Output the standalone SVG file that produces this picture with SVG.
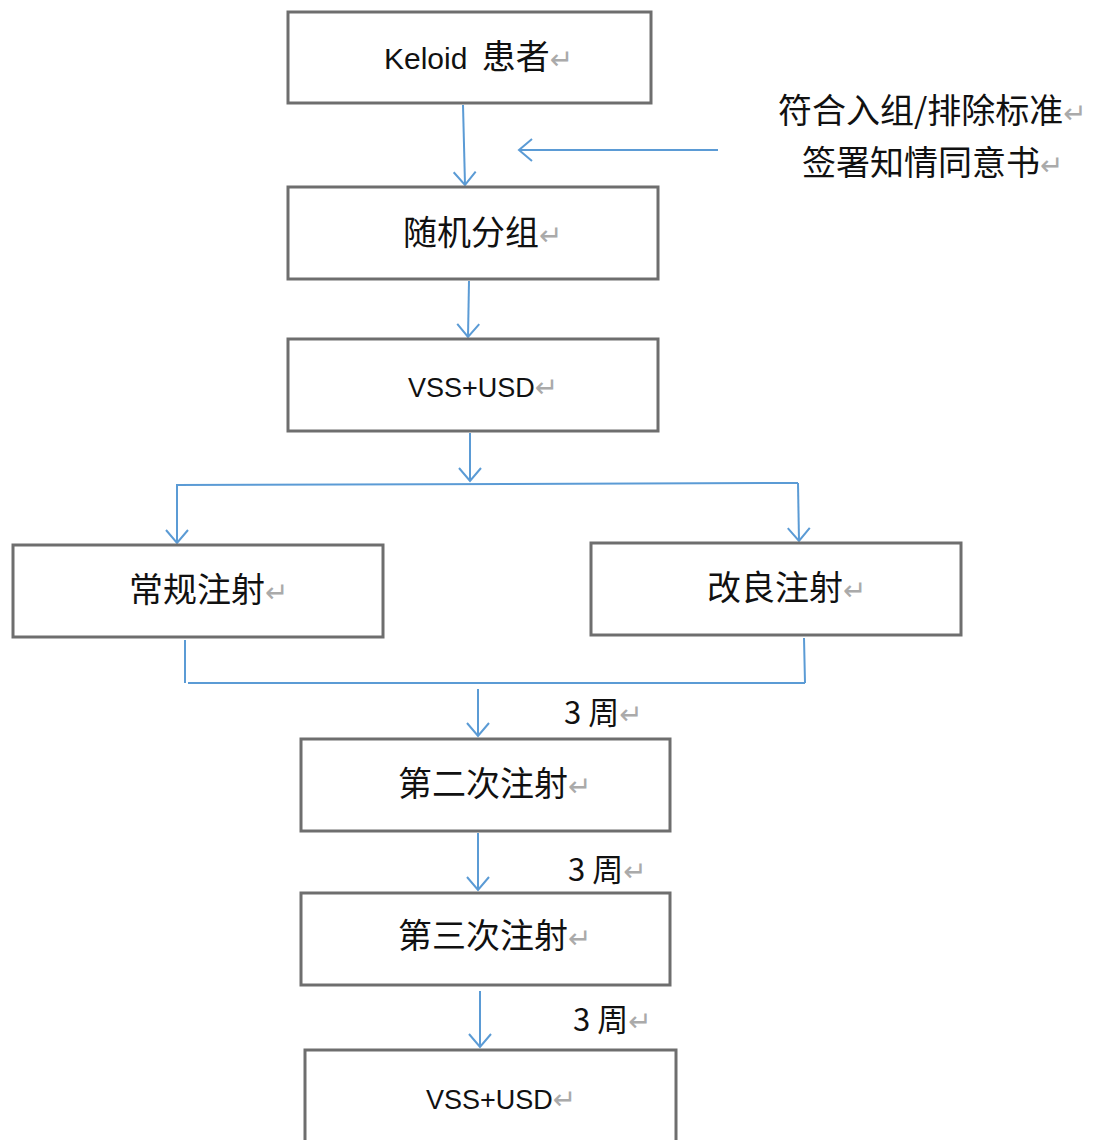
<svg xmlns="http://www.w3.org/2000/svg" width="1096" height="1140" viewBox="0 0 1096 1140">
<style>
.box{fill:#fff;stroke:#6e6e6e;stroke-width:3}
.t{font-family:"Noto Sans CJK SC","Liberation Sans",sans-serif;font-size:34px;fill:#111}
.e{font-family:"Liberation Sans","Noto Sans CJK SC",sans-serif;font-size:27px;fill:#111}
.r{fill:#aaa;font-family:"DejaVu Sans",sans-serif;font-size:28px}
.c{fill:none;stroke:#5b9bd5;stroke-width:2}
</style>
<defs>
<marker id="a" markerUnits="userSpaceOnUse" markerWidth="30" markerHeight="30" refX="14" refY="12" orient="auto" viewBox="0 0 30 24">
<path d="M1,1 L14,12 L1,23" fill="none" stroke="#5b9bd5" stroke-width="2"/>
</marker>
</defs>
<g id="connectors">
<path class="c" d="M463,105 L465,185" marker-end="url(#a)"/>
<path class="c" d="M718,150 L519,150" marker-end="url(#a)"/>
<path class="c" d="M469,281 L468,337" marker-end="url(#a)"/>
<path class="c" d="M470,433 L470,481" marker-end="url(#a)"/>
<path class="c" d="M176,485 L798,483"/>
<path class="c" d="M177,485 L177,543" marker-end="url(#a)"/>
<path class="c" d="M798,483 L799,541" marker-end="url(#a)"/>
<path class="c" d="M185,640 L185,683 M188,683 L805,683 M804,638 L805,683"/>
<path class="c" d="M478,689 L478,736" marker-end="url(#a)"/>
<path class="c" d="M478,833 L478,890" marker-end="url(#a)"/>
<path class="c" d="M480,991 L480,1047" marker-end="url(#a)"/>
</g>
<g id="n1"><rect class="box" x="288" y="12" width="363" height="91"/><text class="e" x="384" y="69" style="font-size:30px">Keloid <tspan class="t" dx="6">患者</tspan><tspan class="r">↵</tspan></text></g>
<g id="n2"><rect class="box" x="288" y="187" width="370" height="92"/><text class="t" x="403" y="245">随机分组<tspan class="r">↵</tspan></text></g>
<g id="n3"><rect class="box" x="288" y="339" width="370" height="92"/><text class="e" x="408" y="397">VSS+USD<tspan class="r">↵</tspan></text></g>
<g id="n4"><rect class="box" x="13" y="545" width="370" height="92"/><text class="t" x="129" y="602">常规注射<tspan class="r">↵</tspan></text></g>
<g id="n5"><rect class="box" x="591" y="543" width="370" height="92"/><text class="t" x="707" y="600">改良注射<tspan class="r">↵</tspan></text></g>
<g id="n6"><rect class="box" x="301" y="739" width="369" height="92"/><text class="t" x="398" y="796">第二次注射<tspan class="r">↵</tspan></text></g>
<g id="n7"><rect class="box" x="301" y="893" width="369" height="92"/><text class="t" x="398" y="948">第三次注射<tspan class="r">↵</tspan></text></g>
<g id="n8"><rect class="box" x="305" y="1050" width="371" height="100"/><text class="e" x="426" y="1109">VSS+USD<tspan class="r">↵</tspan></text></g>
<g id="criteria">
<text class="t" x="778" y="123">符合入组/排除标准<tspan class="r">↵</tspan></text>
<text class="t" x="802" y="175">签署知情同意书<tspan class="r">↵</tspan></text>
</g>
<g id="labels">
<text class="t" x="564" y="724" style="font-size:31px">3 周<tspan class="r">↵</tspan></text>
<text class="t" x="568" y="881" style="font-size:31px">3 周<tspan class="r">↵</tspan></text>
<text class="t" x="573" y="1031" style="font-size:31px">3 周<tspan class="r">↵</tspan></text>
</g>
</svg>
